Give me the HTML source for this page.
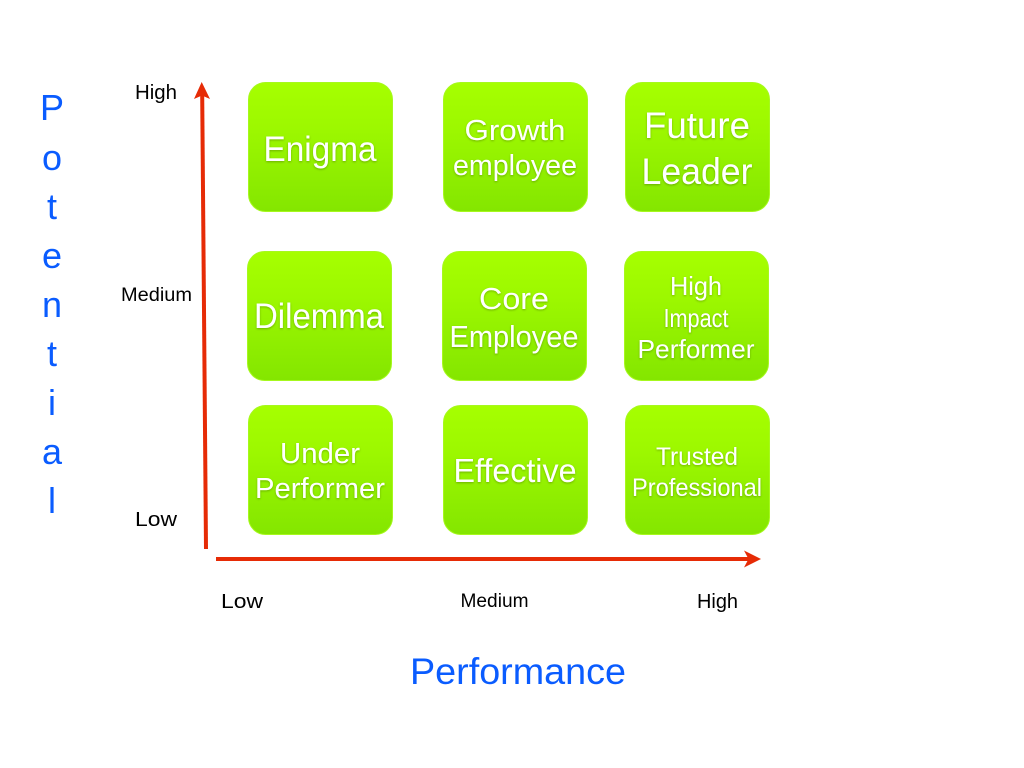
<!DOCTYPE html>
<html>
<head>
<meta charset="utf-8">
<style>
html,body{margin:0;padding:0;background:#fff;width:1024px;height:768px;overflow:hidden}
svg{display:block}
text{font-family:"Liberation Sans",sans-serif}
.w{fill:#fff;text-anchor:middle;filter:url(#ts)}
.k{fill:#000;text-anchor:middle;font-size:20px}
.b{fill:#0a5cff;text-anchor:middle}
</style>
</head>
<body>
<svg width="1024" height="768" viewBox="0 0 1024 768" xmlns="http://www.w3.org/2000/svg">
<defs>
<linearGradient id="g" x1="0" y1="0" x2="0" y2="1">
<stop offset="0" stop-color="#a6ff00"/>
<stop offset="0.35" stop-color="#9df800"/>
<stop offset="1" stop-color="#84e600"/>
</linearGradient>
<filter id="ts" x="-10%" y="-20%" width="120%" height="150%">
<feDropShadow dx="0" dy="1" stdDeviation="1" flood-color="#000" flood-opacity="0.28"/>
</filter>
</defs>

<g fill="url(#g)" stroke="#a6f81e" stroke-width="1">
<rect x="248.500" y="82.500" width="144" height="129" rx="17"/>
<rect x="443.500" y="82.500" width="144" height="129" rx="17"/>
<rect x="625.500" y="82.500" width="144" height="129" rx="17"/>
<rect x="247.500" y="251.500" width="144" height="129" rx="17"/>
<rect x="442.500" y="251.500" width="144" height="129" rx="17"/>
<rect x="624.500" y="251.500" width="144" height="129" rx="17"/>
<rect x="248.500" y="405.500" width="144" height="129" rx="17"/>
<rect x="443.500" y="405.500" width="144" height="129" rx="17"/>
<rect x="625.500" y="405.500" width="144" height="129" rx="17"/>
</g>

<text class="w" x="320" y="161" font-size="35" textLength="113" lengthAdjust="spacingAndGlyphs">Enigma</text>
<text class="w" x="515" y="140" font-size="29" textLength="101" lengthAdjust="spacingAndGlyphs">Growth</text>
<text class="w" x="515" y="175" font-size="29" textLength="124" lengthAdjust="spacingAndGlyphs">employee</text>
<text class="w" x="697" y="138" font-size="37" textLength="106" lengthAdjust="spacingAndGlyphs">Future</text>
<text class="w" x="697" y="184" font-size="37" textLength="111" lengthAdjust="spacingAndGlyphs">Leader</text>

<text class="w" x="319" y="328" font-size="35" textLength="130" lengthAdjust="spacingAndGlyphs">Dilemma</text>
<text class="w" x="514" y="309" font-size="31" textLength="70" lengthAdjust="spacingAndGlyphs">Core</text>
<text class="w" x="514" y="347" font-size="31" textLength="129" lengthAdjust="spacingAndGlyphs">Employee</text>
<text class="w" x="696" y="295" font-size="26" textLength="52" lengthAdjust="spacingAndGlyphs">High</text>
<text class="w" x="696" y="327" font-size="26" textLength="65" lengthAdjust="spacingAndGlyphs">Impact</text>
<text class="w" x="696" y="358" font-size="26" textLength="117" lengthAdjust="spacingAndGlyphs">Performer</text>

<text class="w" x="320" y="463" font-size="29" textLength="80" lengthAdjust="spacingAndGlyphs">Under</text>
<text class="w" x="320" y="498" font-size="29" textLength="130" lengthAdjust="spacingAndGlyphs">Performer</text>
<text class="w" x="515" y="482" font-size="33" textLength="123" lengthAdjust="spacingAndGlyphs">Effective</text>
<text class="w" x="697" y="465" font-size="25" textLength="82" lengthAdjust="spacingAndGlyphs">Trusted</text>
<text class="w" x="697" y="496" font-size="25" textLength="130" lengthAdjust="spacingAndGlyphs">Professional</text>

<line x1="206" y1="549" x2="202.200" y2="95" stroke="#e62b06" stroke-width="4"/>
<polygon points="201.700,82 210,99 202,95.500 194,99" fill="#e62b06"/>
<line x1="216" y1="559" x2="750" y2="559" stroke="#e62b06" stroke-width="4"/>
<polygon points="761,559 744,550.500 748.500,559 744,567.500" fill="#e62b06"/>

<text class="k" x="156" y="99" font-size="20" textLength="42" lengthAdjust="spacingAndGlyphs">High</text>
<text class="k" x="156.500" y="301" style="font-size:19px" textLength="71" lengthAdjust="spacingAndGlyphs">Medium</text>
<text class="k" x="156" y="526" textLength="42" lengthAdjust="spacingAndGlyphs">Low</text>
<text class="k" x="242" y="608" textLength="42" lengthAdjust="spacingAndGlyphs">Low</text>
<text class="k" x="494.500" y="607" style="font-size:19px" textLength="68" lengthAdjust="spacingAndGlyphs">Medium</text>
<text class="k" x="717.500" y="608" textLength="41" lengthAdjust="spacingAndGlyphs">High</text>

<g font-size="36">
<text class="b" x="52" y="120">P</text>
<text class="b" x="52" y="170">o</text>
<text class="b" x="52" y="219">t</text>
<text class="b" x="52" y="268">e</text>
<text class="b" x="52" y="317">n</text>
<text class="b" x="52" y="366">t</text>
<text class="b" x="52" y="415">i</text>
<text class="b" x="52" y="464">a</text>
<text class="b" x="52" y="513">l</text>
</g>
<text class="b" x="518" y="684" font-size="37" textLength="216" lengthAdjust="spacingAndGlyphs">Performance</text>
</svg>
</body>
</html>
